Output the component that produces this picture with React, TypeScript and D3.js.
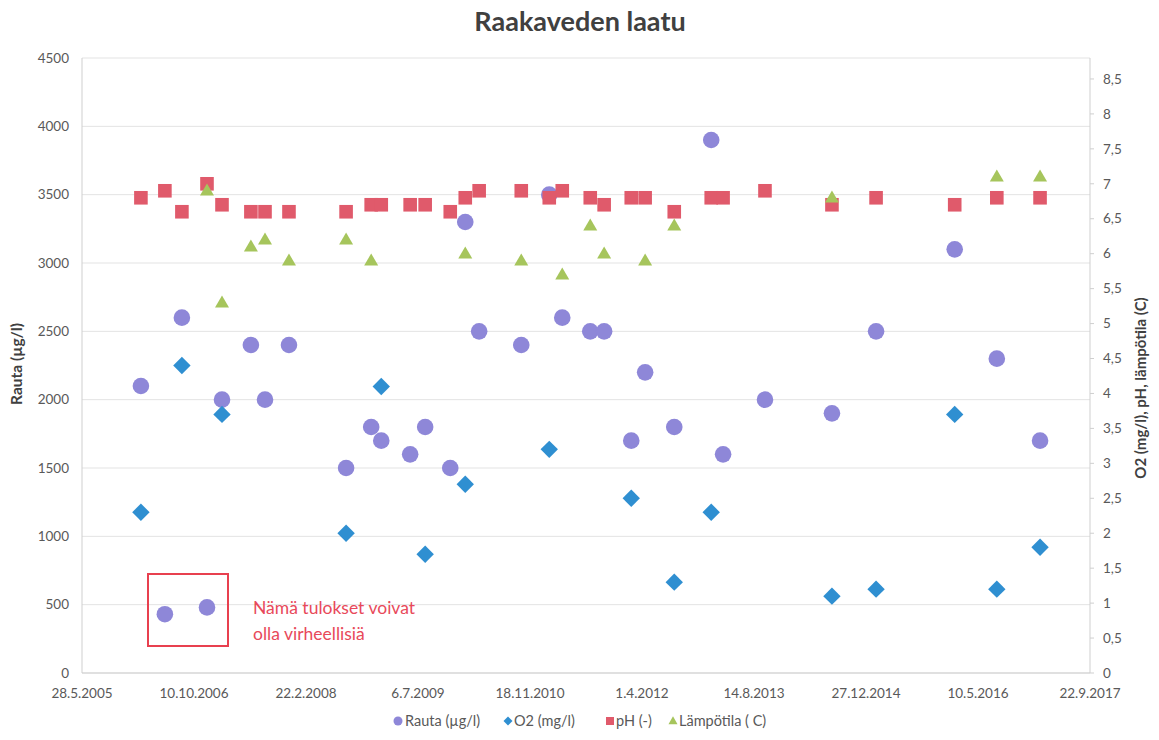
import React from 'react';
import * as d3 from 'd3';

// sampling dates (d.m.yyyy) and measured values; null = not measured
const dates = [
  "15.2.2006", "2.6.2006", "17.8.2006", "7.12.2006", "12.2.2007", "21.6.2007",
  "23.8.2007", "8.12.2007", "19.8.2008", "9.12.2008", "23.1.2009", "1.6.2009",
  "7.8.2009", "27.11.2009", "2.2.2010", "5.4.2010", "10.10.2010", "12.2.2011",
  "11.4.2011", "14.8.2011", "15.10.2011", "13.2.2012", "15.4.2012", "23.8.2012",
  "4.2.2013", "29.3.2013", "2.10.2013", "28.7.2014", "10.2.2015", "27.1.2016",
  "2.8.2016", "11.2.2017",
];
const rauta = [
  2100, 430, 2600, 480, 2000, 2400, 2000, 2400, 1500, 1800, 1700, 1600,
  1800, 1500, 3300, 2500, 2400, 3500, 2600, 2500, 2500, 1700, 2200, 1800,
  3900, 1600, 2000, 1900, 2500, 3100, 2300, 1700,
];
const o2 = [
  2.3, null, 4.4, null, 3.7, null, null, null, 2.0, null, 4.1, null,
  1.7, null, 2.7, null, null, 3.2, null, null, null, 2.5, null, 1.3,
  2.3, null, null, 1.1, 1.2, 3.7, 1.2, 1.8,
];
const ph = [
  6.8, 6.9, 6.6, 7.0, 6.7, 6.6, 6.6, 6.6, 6.6, 6.7, 6.7, 6.7,
  6.7, 6.6, 6.8, 6.9, 6.9, 6.8, 6.9, 6.8, 6.7, 6.8, 6.8, 6.6,
  6.8, 6.8, 6.9, 6.7, 6.8, 6.7, 6.8, 6.8,
];
const lampotila = [
  null, null, null, 6.9, 5.3, 6.1, 6.2, 5.9, 6.2, 5.9, null, null,
  null, null, 6.0, null, 5.9, null, 5.7, 6.4, 6.0, null, 5.9, 6.4,
  null, null, null, 6.8, null, null, 7.1, 7.1,
];

const dateTicks = [
  "28.5.2005", "10.10.2006", "22.2.2008", "6.7.2009", "18.11.2010",
  "1.4.2012", "14.8.2013", "27.12.2014", "10.5.2016", "22.9.2017",
];
const leftTicks = [0, 500, 1000, 1500, 2000, 2500, 3000, 3500, 4000, 4500];
const rightTicks = [0, 0.5, 1, 1.5, 2, 2.5, 3, 3.5, 4, 4.5, 5, 5.5, 6, 6.5, 7, 7.5, 8, 8.5];

const W = 1159;
const H = 740;
const left = 82, right = 1090, top = 58, bottom = 673;

const C_RAUTA = "#8e87d8";
const C_O2 = "#2f8fd1";
const C_PH = "#e05a6b";
const C_T = "#a6c55c";
const FONT = "Lato, 'Open Sans', sans-serif";

const parse = (s: string) => {
  const [d, m, y] = s.split('.').map(Number);
  return new Date(Date.UTC(y, m - 1, d));
};

const x = d3.scaleUtc()
  .domain([parse(dateTicks[0]), parse(dateTicks[dateTicks.length - 1])])
  .range([left, right]);
const yL = d3.scaleLinear().domain([0, 4500]).range([bottom, top]);
const yR = d3.scaleLinear().domain([0, 8.8]).range([bottom, top]);

const fmtR = (v: number) => String(v).replace('.', ',');

const diamond = (cx: number, cy: number, r: number) =>
  `M${cx},${cy - r}L${cx + r},${cy}L${cx},${cy + r}L${cx - r},${cy}Z`;
const triangle = (cx: number, cy: number, w: number, h: number) =>
  `M${cx},${cy - h * 0.6}L${cx + w / 2},${cy + h * 0.4}L${cx - w / 2},${cy + h * 0.4}Z`;

export default function App() {
  const pts = dates.map((d, i) => ({ t: parse(d), i }));

  return (
    <svg width={W} height={H} style={{ position: 'absolute', left: 0, top: 0, background: '#fff' }}
      fontFamily={FONT}>
      <rect width={W} height={H} fill="#fff" />
      <text x={580} y={31} textAnchor="middle" fontSize={27} fontWeight="bold" fill="#404040">
        Raakaveden laatu
      </text>

      {/* gridlines */}
      {leftTicks.map(v => (
        <line key={v} x1={left} x2={right} y1={yL(v)} y2={yL(v)} stroke="#e3e3e3" strokeWidth={1} />
      ))}

      {/* axes */}
      <line x1={left} x2={left} y1={top} y2={bottom} stroke="#cfcfcf" />
      <line x1={right} x2={right} y1={top} y2={bottom} stroke="#cfcfcf" />
      <line x1={left} x2={right} y1={bottom} y2={bottom} stroke="#cfcfcf" />
      {rightTicks.map(v => (
        <line key={v} x1={right} x2={right + 4} y1={yR(v)} y2={yR(v)} stroke="#cfcfcf" />
      ))}

      {leftTicks.map(v => (
        <text key={v} x={69} y={yL(v)} dy="0.35em" textAnchor="end" fontSize={13.5} fill="#595959">{v}</text>
      ))}
      {rightTicks.map(v => (
        <text key={v} x={1103} y={yR(v)} dy="0.35em" fontSize={13.5} fill="#595959">{fmtR(v)}</text>
      ))}
      {dateTicks.map(d => (
        <text key={d} x={x(parse(d))} y={693} dy="0.35em" textAnchor="middle" fontSize={13.5} fill="#595959">{d}</text>
      ))}

      <text transform={`translate(22,364) rotate(-90)`} textAnchor="middle" fontSize={15.5} fontWeight="bold" fill="#404040">
        Rauta (µg/l)
      </text>
      <text transform={`translate(1146,388) rotate(-90)`} textAnchor="middle" fontSize={15} fontWeight="bold" fill="#404040">
        O2 (mg/l), pH, lämpötila (C)
      </text>

      {/* series, in drawing order */}
      {pts.map(({ t, i }) => (
        <circle key={'r' + i} cx={x(t)} cy={yL(rauta[i])} r={8.3} fill={C_RAUTA} />
      ))}
      {pts.filter(p => o2[p.i] != null).map(({ t, i }) => (
        <path key={'o' + i} d={diamond(x(t), yR(o2[i] as number), 8.7)} fill={C_O2} />
      ))}
      {pts.filter(p => ph[p.i] != null).map(({ t, i }) => (
        <rect key={'p' + i} x={x(t) - 6.8} y={yR(ph[i]) - 6.8} width={13.6} height={13.6} fill={C_PH} />
      ))}
      {pts.filter(p => lampotila[p.i] != null).map(({ t, i }) => (
        <path key={'l' + i} d={triangle(x(t), yR(lampotila[i] as number), 14, 12)} fill={C_T} />
      ))}

      {/* annotation */}
      <rect x={148} y={574} width={80} height={72} fill="none" stroke="#e8404f" strokeWidth={2} />
      <text x={253} y={614} fontSize={17.5} fill="#e8495a">Nämä tulokset voivat</text>
      <text x={253} y={640} fontSize={17.5} fill="#e8495a">olla virheellisiä</text>

      {/* legend */}
      <g fontSize={14.5} fill="#595959">
        <circle cx={398} cy={721} r={4.5} fill={C_RAUTA} />
        <text x={405} y={721} dy="0.35em">Rauta (µg/l)</text>
        <path d={diamond(508, 721, 4.5)} fill={C_O2} />
        <text x={514} y={721} dy="0.35em">O2 (mg/l)</text>
        <rect x={606} y={717} width={8} height={8} fill={C_PH} />
        <text x={616} y={721} dy="0.35em">pH (-)</text>
        <path d={triangle(673, 721, 9, 8)} fill={C_T} />
        <text x={679} y={721} dy="0.35em">Lämpötila ( C)</text>
      </g>
    </svg>
  );
}
